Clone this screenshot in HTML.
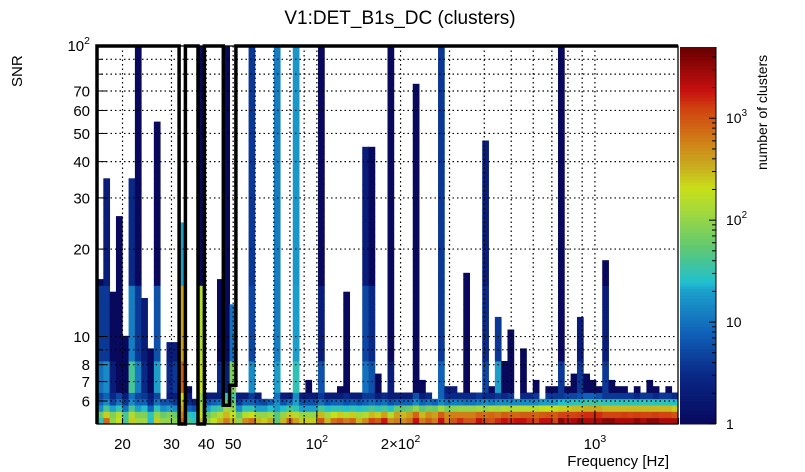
<!DOCTYPE html>
<html><head><meta charset="utf-8"><style>
html,body{margin:0;padding:0;background:#fff;}
svg{display:block;font-family:"Liberation Sans",Arial,sans-serif;}
</style></head><body>
<svg id="chart" width="805" height="472" viewBox="0 0 805 472" xmlns="http://www.w3.org/2000/svg">
<rect x="0" y="0" width="805" height="472" fill="#fff"/>
<text x="400" y="24" font-size="19" text-anchor="middle">V1:DET_B1s_DC (clusters)</text>
<text transform="translate(22,87) rotate(-90)" font-size="15" text-anchor="start">SNR</text>
<text x="669" y="466" font-size="15" text-anchor="end">Frequency [Hz]</text>
<text transform="translate(767,170) rotate(-90)" font-size="14" text-anchor="start">number of clusters</text>
<g id="cells"></g>
<g id="grid"></g>
<g id="contour"></g>
<g id="axes"></g>
<g id="cbar"></g>
</svg>
<script>
// ---- data ----
const peak=[15.8,35,14.4,26,10.2,35,100,13.7,9.2,55,
6.2,9.7,9.7,24.7,6.8,6.2,100,6.4,6.4,15.8,
100,12.9,6.4,6.4,100,6.4,6.2,6.2,100,6.4,
6.4,100,6.4,7.2,6.4,100,6.4,6.4,6.8,14.4,
6.4,6.4,45,45,7.6,6.4,100,6.4,6.4,6.4,
74,7.2,6.4,6.2,100,6.8,6.8,6.4,16.7,6.4,
6.4,47,6.8,11.8,8.3,10.7,6.2,9.2,6.4,7.2,
6.2,6.8,6.8,100,6.8,7.6,11.8,7.6,7.2,6.8,
18.4,7.2,6.8,6.8,6.4,6.8,6.4,7.2,6.8,6.4,
6.8,6.4];
const row0=[30,800,100,200,40,250,120,120,25,250,100,100,80,900,40,30,300,100,200,300,600,300,100,500,700,300,250,350,50,300,800,400,250,250,250,1000,300,700,900,600,800,300,500,1200,900,1800,500,
600,500,700,2000,600,900,600,2000,600,1000,1500,1000,1000,2000,1200,1000,1500,2000,1500,2000,2000,1500,1200,2000,2000,1200,3500,2000,2500,3500,2500,2500,2500,3500,3500,2500,2500,2500,3500,2500,3500,3500,2500,2500,2500];
const row1=[60,250,80,150,40,150,80,80,30,100,60,80,60,600,30,25,200,60,100,150,300,200,60,150,200,100,100,120,50,100,250,150,100,100,100,300,120,200,250,150,250,120,150,300,250,400,150,
400,300,400,800,300,500,400,900,500,600,600,600,600,
800,700,800,700,900,800,800,900,900,800,900,1000,900,1200,1200,1200,1300,1500,1500,1500,1200,1200,1200,1300,1200,1300,1200,1200,1300,1200,1200,1000];
const row2=[15,40,20,30,10,40,20,25,8,30,15,20,15,400,8,6,150,20,30,40,120,100,15,30,30,20,20,25,20,25,40,30,20,20,20,40,25,30,30,25,30,25,30,40,30,40,25,
60,50,60,100,50,70,60,120,70,90,100,100,100,
120,100,130,120,150,130,150,150,150,150,180,200,180,250,250,300,300,350,350,350,300,300,300,300,300,300,300,300,300,300,300,250];
const row3=[8,15,5,10,4,15,8,8,3,10,6,6,4,300,3,2,120,6,8,10,60,60,4,8,8,6,5,8,15,6,10,20,6,6,6,10,6,8,8,6,8,6,8,10,8,10,6,
8,8,8,15,8,10,8,15,10,12,12,10,10,
12,15,12,15,15,15,15,15,15,15,20,20,20,25,25,30,30,35,35,35,30,30,30,30,30,30,30,30,30,30,30,25];
const row4=[5,8,3,5,2,10,5,4,2,5,2,2,2,200,2,1,100,2,2,2,30,40,2,2,4,2,2,2,10,2,2,15,2,2,2,4,2,2,2,3,2,2,4,4,2,3,2,
2,2,2,6,2,3,2,8,3,3,3,3,3,4,3,3,4,3,4,3,3,3,4,3,4,4,4,5,5,6,8,8,6,4,4,4,4,4,3,4,4,3,4,4,3];
const midCounts=[10,15,2,1,1,40,12,3,1,20, 1,3,4,900,1,1,200,1,1,3, 2,80,1,1,15,1,1,1,20,1, 1,30,1,1,1,6,1,1,1,1,
1,1,10,6,1,1,2,1,1,1, 1,1,1,1,8,2,2,1,1,1, 1,5,1,20,1,1,1,1,1,1, 1,1,1,4,1,1,4,1,1,1, 4,1,1,1,1,1,1,1,1,1, 1,1];
const tailCounts=[4,4,1,1,1,12,4,2,1,6, 1,2,2,400,1,1,150,1,1,1, 1,10,1,1,5,1,1,1,12,1, 1,20,1,1,1,2,1,1,1,1,
1,1,5,3,1,1,1,1,1,1, 1,1,1,1,4,1,1,1,1,1, 1,3,1,4,1,1,1,1,1,1, 1,1,1,1,1,1,2,1,1,1, 2,1,1,1,1,1,1,1,1,1, 1,1];
const topCounts=[1,2,1,1,1,3,1,1,1,1, 1,1,1,20,1,1,1,1,1,1, 1,1,1,1,4,1,1,1,12,1, 1,18,1,1,1,1,1,1,1,1,
1,1,2,1,1,1,1,1,1,1, 1,1,1,1,4,1,1,1,1,1, 1,2,1,1,1,1,1,1,1,1, 1,1,1,1,1,1,1,1,1,1, 1,1,1,1,1,1,1,1,1,1, 1,1];
const contourEdges=[0,0,13,13,14,14,16,16,17,17,20,20,21,21,22,22,92];
const contourSnr=[5,100,100,5,5,100,100,5,5,100,100,5.8,5.8,6.8,6.8,100,100];
const yTickVals=[6,7,8,9,10,20,30,40,50,60,70,80,90,100];
const yTickLabels=["6","7","8","","10","20","30","40","50","60","70","","","10|2"];
const xTickVals=[20,30,40,50,60,70,80,90,100,200,300,400,500,600,700,800,900,1000,2000];
const xTickLabels=["20","30","40","50","","","","","10|2","2×10|2","","","","","","","","10|3",""];
const cbTickVals=[1,2,3,4,5,6,7,8,9,10,20,30,40,50,60,70,80,90,100,200,300,400,500,600,700,800,900,1000,2000,3000,4000];
const cbTickLabels=["1","","","","","","","","","10","","","","","","","","","10|2","","","","","","","","","10|3","","",""];

// ---- scales ----
const X0=97,X1=678,Y0=46,Y1=424;
const FMIN=16.19,FMAX=1990,SMIN=5,SMAX=100,CMAX=5000;
const NX=92,NY=60;
function xScale(f){return X0+(Math.log10(f)-Math.log10(FMIN))/(Math.log10(FMAX)-Math.log10(FMIN))*(X1-X0);}
function yScale(s){return Y1-(Math.log10(s)-Math.log10(SMIN))/(Math.log10(SMAX)-Math.log10(SMIN))*(Y1-Y0);}
function edgeFreq(i){return FMIN*Math.pow(FMAX/FMIN,i/NX);}
function rowSnr(k){return SMIN*Math.pow(SMAX/SMIN,k/NY);}
const stops=[[0,[8,8,92]],[0.135,[10,42,136]],[0.24,[16,96,184]],[0.355,[28,160,204]],[0.375,[32,192,208]],[0.47,[96,200,112]],[0.56,[160,216,64]],[0.625,[200,224,24]],[0.68,[200,176,32]],[0.75,[208,128,24]],[0.84,[208,64,16]],[0.885,[200,16,16]],[1,[104,0,0]]];
function color(c){
  let f=Math.log10(Math.max(c,1))/Math.log10(CMAX); f=Math.min(1,Math.max(0,f));
  for(let i=1;i<stops.length;i++){ if(f<=stops[i][0]){const a=stops[i-1],b=stops[i];const t=(f-a[0])/(b[0]-a[0]);
    const r=a[1].map((v,j)=>Math.round(v+(b[1][j]-v)*t));return `rgb(${r[0]},${r[1]},${r[2]})`;}}
  return 'rgb(104,0,0)';
}
const NS='http://www.w3.org/2000/svg';
function mk(tag,attrs,parent){const e=document.createElementNS(NS,tag);for(const k in attrs)e.setAttribute(k,attrs[k]);parent.appendChild(e);return e;}
function supText(parent,x,y,label,anchor,size){
  const t=mk('text',{x:x,y:y,'font-size':size,'text-anchor':anchor},parent);
  const parts=label.split('|');
  t.appendChild(document.createTextNode(parts[0]));
  if(parts.length>1){const s=mk('tspan',{dy:-7,'font-size':size*0.7},t);s.textContent=parts[1];}
  return t;
}

// ---- cells ----
const gc=document.getElementById('cells');
const lower=[row0,row1,row2,row3,row4];
for(let i=0;i<NX;i++){
  const xa=xScale(edgeFreq(i)),xb=xScale(edgeFreq(i+1));
  for(let k=0;k<NY;k++){
    const center=SMIN*Math.pow(SMAX/SMIN,(k+0.5)/NY);
    if(center>=peak[i])break;
    let c;
    if(k<5)c=lower[k][i]; else if(k<10)c=midCounts[i]; else if(k<22)c=tailCounts[i]; else c=topCounts[i];
    const ya=yScale(rowSnr(k+1)),yb=yScale(rowSnr(k));
    const r=mk('rect',{x:xa.toFixed(2),y:ya.toFixed(2),width:(xb-xa+0.4).toFixed(2),height:(yb-ya+0.4).toFixed(2),fill:color(c)},gc);
    
    
  }
}

// ---- grid ----
const gg=document.getElementById('grid');
yTickVals.forEach(v=>{const y=yScale(v);if(v>=SMAX)return;
  const l=mk('line',{x1:X0,x2:X1,y1:y,y2:y,stroke:'#000','stroke-width':1.2,'stroke-dasharray':'1.5,3'},gg);
  
  
});
xTickVals.forEach(v=>{const x=xScale(v);if(x>=X1-1)return;
  const l=mk('line',{x1:x,x2:x,y1:Y0,y2:Y1,stroke:'#000','stroke-width':1.2,'stroke-dasharray':'1.5,3'},gg);
  
  
});

// ---- contour ----
const gk=document.getElementById('contour');
const pts=contourEdges.map((e,j)=>xScale(edgeFreq(e)).toFixed(1)+','+yScale(contourSnr[j]).toFixed(1)).join(' ');
const pl=mk('polyline',{points:pts,fill:'none',stroke:'#000','stroke-width':3.5,'stroke-linejoin':'miter'},gk);



// ---- axes ----
const ga=document.getElementById('axes');
const fr=mk('rect',{x:X0,y:Y0,width:X1-X0,height:Y1-Y0,fill:'none',stroke:'#000','stroke-width':1.3},ga);


yTickVals.forEach((v,j)=>{const y=yScale(v);const major=yTickLabels[j]!=='';
  const t=mk('line',{x1:X0,x2:X0+(major?10:6),y1:y,y2:y,stroke:'#000','stroke-width':1},ga);
  
  
  if(major){const tx=supText(ga,90,y+(yTickLabels[j].includes('|')?5:5.5),yTickLabels[j],'end',15);
    
    }
});
xTickVals.forEach((v,j)=>{const x=xScale(v);const big=(v===100||v===1000);
  const t=mk('line',{x1:x,x2:x,y1:Y1,y2:Y1-(big?12:6),stroke:'#000','stroke-width':1},ga);
  
  
  if(xTickLabels[j]!==''){const tx=supText(ga,x,449,xTickLabels[j],'middle',15);
    
    }
});

// ---- colorbar ----
const gb=document.getElementById('cbar');
const CB0=680,CB1=716,CBT=47,CBB=424;
function cbScale(c){return CBB-Math.log10(c)/Math.log10(CMAX)*(CBB-CBT);}
for(let p=0;p<120;p++){
  const ca=Math.pow(CMAX,p/120),cb=Math.pow(CMAX,(p+1)/120),cm=Math.pow(CMAX,(p+0.5)/120);
  const r=mk('rect',{x:CB0,y:cbScale(cb).toFixed(2),width:CB1-CB0,height:(cbScale(ca)-cbScale(cb)+0.5).toFixed(2),fill:color(cm)},gb);
  
  
}
cbTickVals.forEach((v,j)=>{const y=cbScale(v);const major=cbTickLabels[j]!=='';
  const t=mk('line',{x1:CB1,x2:CB1-(major?7:4),y1:y,y2:y,stroke:'#000','stroke-width':1},gb);
  
  
  if(major){const tx=supText(gb,726,y+5,cbTickLabels[j],'start',14);
    
    }
});
const cbl=mk('line',{x1:CB1,x2:CB1,y1:CBT,y2:CBB,stroke:'#000','stroke-width':1},gb);


</script>
</body></html>
